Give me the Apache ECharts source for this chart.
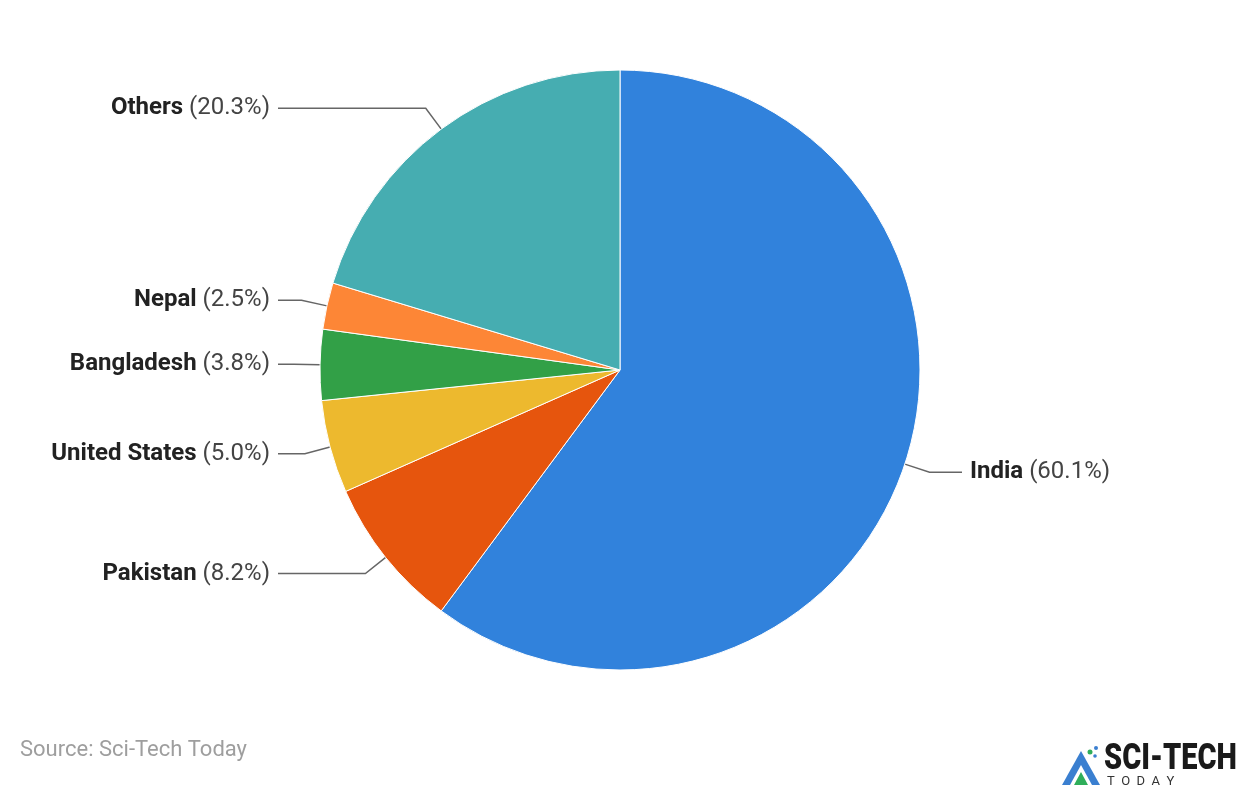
<!DOCTYPE html>
<html>
<head>
<meta charset="utf-8">
<script src="https://cdn.jsdelivr.net/npm/echarts@6/dist/echarts.min.js"></script>
<style>
html,body{margin:0;padding:0;background:#fff;}
#chart{width:1240px;height:786px;}
</style>
</head>
<body>
<div id="chart"></div>
<script>
const categories = ['India', 'Pakistan', 'United States', 'Bangladesh', 'Nepal', 'Others'];
const shares = [60.1, 8.2, 5.0, 3.8, 2.5, 20.3];
const colors = ['#3182DC', '#E6550D', '#EDB92E', '#32A047', '#FD8636', '#46ADB1'];
const sourceText = 'Source: Sci-Tech Today';

const CX = 620, CY = 370, R = 300;
const LINE_REACH = 342; // horizontal distance from centre to the end of every label line

const chart = echarts.init(document.getElementById('chart'), null, {renderer: 'canvas'});
const data = categories.map((c, i) => ({name: c, value: shares[i], itemStyle: {color: colors[i]}}));

chart.setOption({
  backgroundColor: '#ffffff',
  animation: false,
  textStyle: {fontFamily: 'Roboto'},
  graphic: [
    {type: 'text', left: 20, top: 739, style: {text: sourceText, fontFamily: 'Roboto', fontSize: 22, fill: '#9e9e9e'}},
    {type: 'group', left: 1062, top: 741, children: [
      {type: 'polygon', shape: {points: [[1, 40], [20, 6], [39, 40]]}, style: {fill: '#3a7fd0'}},
      {type: 'polygon', shape: {points: [[9, 40], [20, 20], [31, 40]]}, style: {fill: '#ffffff'}},
      {type: 'polygon', shape: {points: [[13, 40], [20, 27], [27, 40]]}, style: {fill: '#2fae5a'}},
      {type: 'circle', shape: {cx: 29, cy: 7, r: 2.5}, style: {fill: '#2fae5a'}},
      {type: 'circle', shape: {cx: 35, cy: 3, r: 2}, style: {fill: '#3a7fd0'}},
      {type: 'circle', shape: {cx: 34, cy: 11, r: 1.8}, style: {fill: '#3a7fd0'}},
      {type: 'text', x: 43, y: -4, scaleY: 1.29, style: {text: 'SCI-TECH', fontFamily: 'Roboto', fontWeight: 900, fontSize: 29, fill: '#1a1a1a'}},
      {type: 'text', x: 46, y: 30, style: {text: 'T  O  D  A  Y', fontFamily: 'Roboto', fontSize: 13, fill: '#333333'}}
    ]}
  ],
  series: [{
    type: 'pie',
    center: [CX, CY],
    radius: R,
    startAngle: 90,
    clockwise: true,
    data: data,
    itemStyle: {borderColor: '#ffffff', borderWidth: 1},
    label: {
      show: true,
      position: 'outside',
      fontSize: 24,
      formatter: p => '{b|' + p.name + '}{v| (' + p.value.toFixed(1) + '%)}',
      rich: {
        b: {fontFamily: 'Roboto', fontWeight: 'bold', fontSize: 24, color: '#222222'},
        v: {fontFamily: 'Roboto', fontSize: 24, color: '#444444'}
      }
    },
    labelLine: {show: true, length: 26, length2: 20, smooth: false, lineStyle: {color: '#666666', width: 1.5}},
    labelLayout: function (params) {
      const pts = params.labelLinePoints;
      if (!pts) return {};
      const left = pts[1][0] < CX;
      const endX = left ? CX - LINE_REACH : CX + LINE_REACH;
      const y = pts[1][1];
      return {
        x: left ? endX - 8 : endX + 8,
        y: y,
        align: left ? 'right' : 'left',
        verticalAlign: 'middle',
        labelLinePoints: [pts[0], pts[1], [endX, y]]
      };
    },
    emphasis: {disabled: true}
  }]
});
</script>
</body>
</html>
